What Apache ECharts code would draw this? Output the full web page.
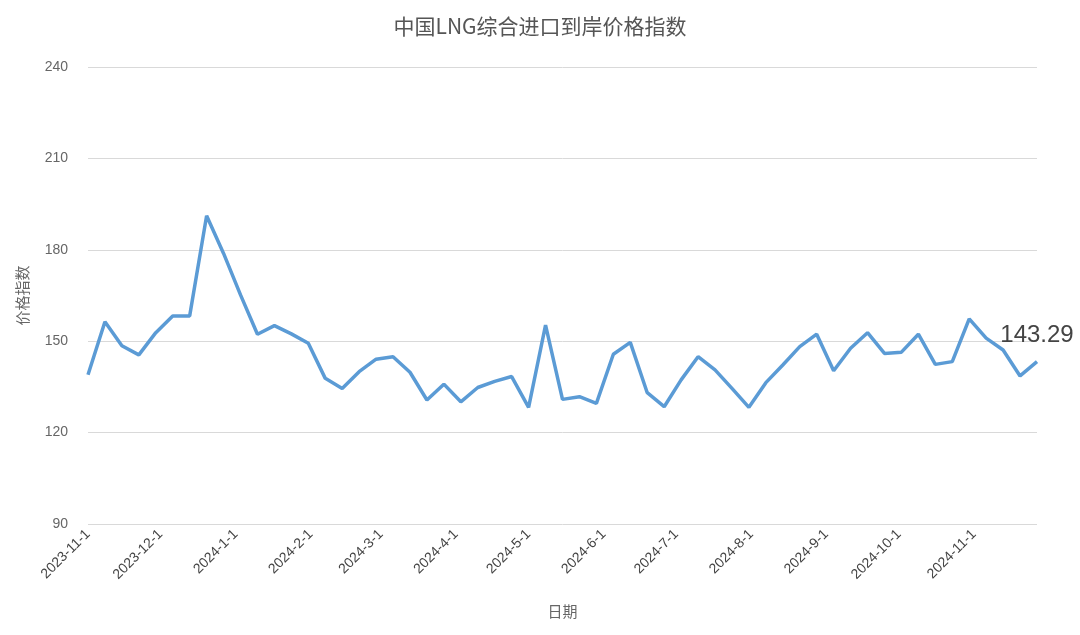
<!DOCTYPE html>
<html><head><meta charset="utf-8">
<script src="https://cdn.jsdelivr.net/npm/echarts@6/dist/echarts.min.js"></script>
<style>html,body{margin:0;padding:0;background:#fff}#c{width:1080px;height:635px}</style>
</head><body><div id="c"></div>
<script>
const startDate = '2023-11-01';
const values = [139,156.4,148.5,145.5,152.8,158.3,158.3,191.2,178.8,165.2,152.3,155.1,152.4,149.3,137.8,134.5,140,144.1,144.9,139.8,130.7,135.9,130.1,134.8,136.8,138.4,128.3,155.3,
130.9,131.8,129.6,145.7,149.6,133.1,128.5,137.3,144.9,140.6,134.5,128.3,136.4,142.2,148.2,152.3,140.3,147.7,152.8,146,146.4,152.3,142.4,143.3,157.3,151,147.1,138.6,143.29];
const yTicks = [90,120,150,180,210,240];
const t0 = new Date(startDate + 'T00:00:00').getTime();
const data = values.map((v,i)=>[t0 + i*7*86400000, v]);
const chart = echarts.init(document.getElementById('c'));
chart.setOption({
  title:{text:'中国LNG综合进口到岸价格指数',left:'center',top:11,textStyle:{fontSize:21,fontWeight:'normal',color:'#555',fontFamily:'Noto Sans CJK SC'}},
  grid:{left:88,right:43,top:67,bottom:111},
  xAxis:{type:'time',min:t0,max:data[data.length-1][0],minInterval:28*86400000,maxInterval:31*86400000,
    name:'日期',nameLocation:'middle',nameGap:80,nameTextStyle:{fontSize:15,color:'#666',fontFamily:'Noto Sans CJK SC'},
    axisLine:{show:false},axisTick:{show:false},splitLine:{show:false},
    axisLabel:{rotate:45,fontSize:14,color:'#444',hideOverlap:false,formatter:function(v){const d=new Date(v);return d.getFullYear()+'-'+(d.getMonth()+1)+'-'+d.getDate();}}},
  yAxis:{type:'value',min:yTicks[0],max:yTicks[yTicks.length-1],interval:30,
    name:'价格指数',nameLocation:'middle',nameGap:58,nameTextStyle:{fontSize:15,color:'#666',fontFamily:'Noto Sans CJK SC'},
    axisLine:{show:false},axisTick:{show:false},axisLabel:{fontSize:14,color:'#666',margin:20},
    splitLine:{lineStyle:{color:'#d9d9d9'}}},
  series:[{type:'line',data:data,showSymbol:false,symbol:'none',lineStyle:{color:'#5b9bd5',width:3.5},
    markPoint:{symbol:'circle',symbolSize:0,label:{show:true,position:'top',distance:14,fontSize:24,color:'#444',formatter:'{c}'},
      data:[{coord:data[data.length-1],value:values[values.length-1]}]}}]
});
</script></body></html>
